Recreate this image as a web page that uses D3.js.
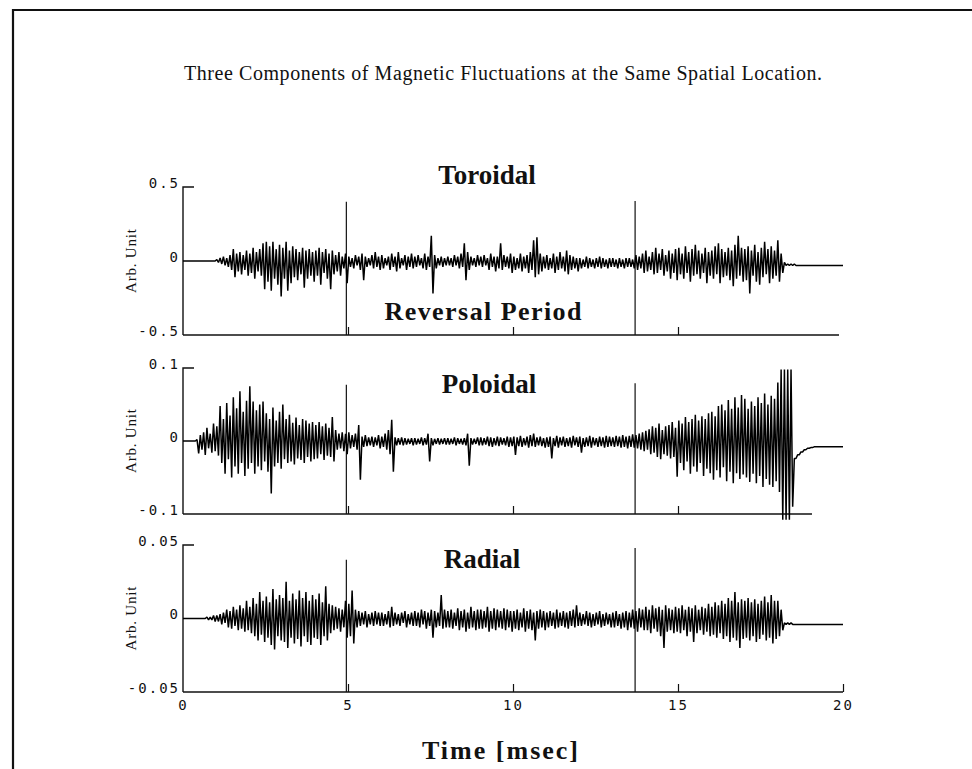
<!DOCTYPE html>
<html>
<head>
<meta charset="utf-8">
<script src="https://cdn.jsdelivr.net/npm/d3@7/dist/d3.min.js"></script>
<style>
  body { margin: 0; background: #fff; }
  svg { display: block; }
  .serif { font-family: "Liberation Serif", "Times New Roman", serif; fill: #111; }
  .tick-label { font-family: "DejaVu Sans Mono", monospace; font-size: 14px; letter-spacing: 2px; fill: #111; }
</style>
</head>
<body>
<svg id="chart"></svg>
<script>
// envelope samples: one max (hi) and one min (lo) per 0.1 msec bin, 0 .. 20 msec
const binWidth = 0.1;
const reversalTimes = [4.95, 13.7];
const timeTicks = [0, 5, 10, 15, 20];

const toroidalTicks = [-0.5, 0, 0.5];
const poloidalTicks = [-0.1, 0, 0.1];
const radialTicks = [-0.05, 0, 0.05];

// top of the reversal marker lines in each panel
const toroidalMarkerTops = [0.40, 0.405];
const poloidalMarkerTops = [0.077, 0.079];
const radialMarkerTops = [0.040, 0.048];

const toroidalHi = [
  0,0,0,0,0,0,0,0,0,0,
  .01,.02,.03,.02,.04,.08,.05,.06,.04,.07,
  .05,.09,.06,.08,.12,.13,.10,.13,.08,.11,
  .09,.13,.07,.10,.08,.06,.09,.07,.08,.06,
  .07,.09,.06,.08,.05,.07,.04,.06,.03,.05,
  .03,.02,.04,.03,.05,.03,.02,.04,.06,.03,
  .04,.02,.03,.05,.03,.06,.02,.04,.03,.05,
  .03,.04,.02,.05,.03,.17,.04,.02,.03,.02,
  .03,.02,.04,.03,.05,.12,.06,.03,.02,.04,
  .03,.04,.02,.05,.03,.03,.12,.04,.03,.05,
  .03,.02,.05,.03,.04,.06,.14,.16,.05,.03,
  .04,.02,.05,.03,.06,.03,.07,.04,.03,.02,
  .02,.01,.03,.02,.01,.02,.03,.02,.01,.02,
  .02,.01,.02,.01,.02,.02,.01,.04,.03,.05,
  .07,.03,.06,.09,.05,.08,.04,.07,.05,.08,
  .09,.05,.10,.06,.08,.11,.07,.05,.09,.06,
  .07,.10,.12,.08,.06,.09,.07,.11,.17,.09,
  .08,.10,.07,.11,.06,.09,.13,.08,.10,.07,
  .14,.05,-.01,-.02,-.02,-.02,-.03,-.03,-.03,-.03,
  -.03,-.03,-.03,-.03,-.03,-.03,-.03,-.03,-.03,-.03
];
const toroidalLo = [
  0,0,0,0,0,0,0,0,0,0,
  -.01,-.02,-.03,-.04,-.06,-.11,-.07,-.09,-.06,-.10,
  -.08,-.12,-.07,-.10,-.19,-.14,-.20,-.12,-.16,-.24,
  -.12,-.20,-.15,-.11,-.13,-.09,-.18,-.12,-.10,-.14,
  -.10,-.16,-.08,-.12,-.19,-.09,-.07,-.10,-.05,-.15,
  -.04,-.05,-.03,-.06,-.13,-.04,-.03,-.05,-.04,-.06,
  -.05,-.03,-.06,-.04,-.07,-.05,-.03,-.06,-.04,-.05,
  -.04,-.03,-.05,-.06,-.04,-.22,-.05,-.03,-.04,-.03,
  -.03,-.04,-.03,-.05,-.04,-.13,-.06,-.03,-.04,-.03,
  -.04,-.03,-.06,-.04,-.07,-.05,-.06,-.04,-.05,-.08,
  -.06,-.05,-.07,-.05,-.08,-.06,-.11,-.09,-.07,-.05,
  -.06,-.05,-.08,-.06,-.05,-.07,-.09,-.06,-.05,-.07,
  -.05,-.04,-.05,-.04,-.05,-.04,-.05,-.04,-.05,-.04,
  -.04,-.05,-.04,-.05,-.04,-.04,-.05,-.06,-.05,-.08,
  -.07,-.06,-.09,-.08,-.06,-.10,-.07,-.12,-.08,-.13,
  -.09,-.12,-.08,-.14,-.10,-.09,-.12,-.08,-.15,-.10,
  -.12,-.09,-.15,-.11,-.10,-.13,-.17,-.12,-.10,-.14,
  -.13,-.22,-.10,-.14,-.16,-.11,-.09,-.15,-.12,-.10,
  -.14,-.08,-.03,-.03,-.03,-.03,-.03,-.03,-.03,-.03,
  -.03,-.03,-.03,-.03,-.03,-.03,-.03,-.03,-.03,-.03
];

const poloidalHi = [
  0,0,0,0,.002,.008,.012,.018,.010,.024,
  .020,.048,.030,.052,.035,.060,.045,.068,.040,.055,
  .075,.054,.042,.050,.054,.038,.030,.046,.028,.040,
  .050,.030,.036,.025,.032,.022,.030,.028,.024,.026,
  .022,.026,.020,.024,.018,.033,.015,.010,.012,.010,
  .012,.008,.010,.022,.006,.008,.005,.006,.005,.008,
  .006,.010,.015,.029,.005,.004,.005,.004,.003,.004,
  .004,.003,.005,.004,.010,.004,.003,.004,.003,.004,
  .004,.003,.005,.004,.003,.004,.010,.004,.003,.005,
  .005,.004,.006,.005,.004,.006,.005,.004,.006,.005,
  .006,.005,.007,.004,.006,.008,.010,.005,.006,.004,
  .005,.006,.004,.007,.005,.006,.004,.005,.007,.005,
  .006,.004,.005,.007,.005,.004,.006,.005,.007,.006,
  .005,.007,.006,.008,.006,.007,.009,.008,.010,.012,
  .014,.016,.020,.018,.024,.015,.020,.022,.026,.018,
  .028,.024,.033,.026,.030,.036,.028,.034,.030,.038,
  .040,.034,.048,.050,.042,.056,.044,.060,.046,.063,
  .058,.044,.054,.048,.060,.052,.065,.050,.062,.058,
  .080,.098,.098,.098,.098,-.024,-.019,-.015,-.012,-.010,
  -.009,-.008,-.008,-.008,-.008,-.008,-.008,-.008,-.008,-.008
];
const poloidalLo = [
  0,0,0,0,-.017,-.012,-.019,-.010,-.016,-.014,
  -.020,-.030,-.045,-.025,-.050,-.035,-.045,-.030,-.048,-.038,
  -.030,-.045,-.035,-.040,-.028,-.042,-.072,-.035,-.030,-.038,
  -.025,-.030,-.028,-.032,-.024,-.026,-.030,-.022,-.028,-.025,
  -.024,-.018,-.026,-.020,-.022,-.028,-.012,-.010,-.014,-.018,
  -.010,-.008,-.012,-.053,-.008,-.007,-.006,-.008,-.006,-.010,
  -.008,-.012,-.018,-.042,-.006,-.005,-.006,-.005,-.004,-.006,
  -.005,-.004,-.006,-.005,-.028,-.006,-.004,-.005,-.004,-.005,
  -.005,-.004,-.006,-.004,-.005,-.006,-.034,-.005,-.004,-.006,
  -.006,-.005,-.007,-.008,-.006,-.007,-.005,-.006,-.008,-.007,
  -.019,-.007,-.008,-.006,-.009,-.007,-.008,-.006,-.007,-.009,
  -.008,-.024,-.007,-.009,-.006,-.008,-.007,-.009,-.006,-.008,
  -.016,-.008,-.007,-.009,-.006,-.008,-.007,-.009,-.008,-.007,
  -.008,-.007,-.009,-.008,-.010,-.008,-.009,-.010,-.012,-.014,
  -.012,-.018,-.016,-.022,-.025,-.018,-.020,-.024,-.022,-.049,
  -.030,-.040,-.028,-.045,-.035,-.042,-.030,-.048,-.038,-.044,
  -.053,-.040,-.050,-.036,-.055,-.042,-.058,-.044,-.052,-.046,
  -.050,-.056,-.045,-.058,-.048,-.063,-.052,-.060,-.063,-.055,
  -.070,-.108,-.108,-.108,-.090,-.024,-.019,-.015,-.012,-.010,
  -.009,-.008,-.008,-.008,-.008,-.008,-.008,-.008,-.008,-.008
];

const radialHi = [
  0,0,0,0,0,0,0,.001,.001,.002,
  .002,.003,.004,.006,.005,.008,.006,.009,.007,.012,
  .008,.014,.010,.018,.012,.015,.011,.020,.013,.016,
  .014,.025,.012,.017,.013,.019,.014,.018,.012,.016,
  .013,.017,.011,.022,.010,.009,.008,.007,.006,.012,
  .010,.019,.006,.005,.004,.005,.003,.004,.005,.004,
  .004,.003,.005,.008,.004,.003,.004,.005,.003,.004,
  .005,.004,.006,.005,.004,.006,.005,.004,.016,.006,
  .005,.006,.004,.007,.005,.006,.004,.008,.005,.006,
  .006,.005,.008,.005,.007,.006,.005,.007,.006,.005,
  .005,.006,.004,.007,.005,.006,.004,.005,.006,.005,
  .004,.005,.004,.006,.004,.005,.004,.005,.006,.009,
  .004,.003,.005,.004,.003,.004,.005,.003,.004,.003,
  .004,.005,.003,.004,.005,.004,.006,.005,.007,.006,
  .008,.006,.009,.007,.008,.006,.009,.007,.006,.008,
  .007,.009,.006,.008,.007,.009,.006,.008,.007,.010,
  .008,.011,.009,.012,.010,.014,.012,.018,.011,.013,
  .012,.014,.011,.013,.010,.012,.015,.011,.016,.012,
  .012,.006,-.003,-.003,-.003,-.004,-.004,-.004,-.004,-.004,
  -.004,-.004,-.004,-.004,-.004,-.004,-.004,-.004,-.004,-.004
];
const radialLo = [
  0,0,0,0,0,0,0,-.001,-.001,-.002,
  -.002,-.004,-.003,-.006,-.007,-.005,-.008,-.007,-.009,-.008,
  -.010,-.012,-.015,-.011,-.016,-.013,-.018,-.021,-.012,-.015,
  -.016,-.020,-.013,-.017,-.014,-.019,-.012,-.016,-.018,-.013,
  -.014,-.018,-.012,-.015,-.010,-.008,-.007,-.009,-.006,-.013,
  -.012,-.017,-.006,-.005,-.004,-.006,-.004,-.005,-.004,-.005,
  -.005,-.004,-.006,-.005,-.004,-.005,-.003,-.006,-.004,-.005,
  -.005,-.006,-.004,-.007,-.005,-.013,-.006,-.005,-.007,-.006,
  -.006,-.007,-.005,-.008,-.006,-.009,-.007,-.006,-.008,-.007,
  -.007,-.006,-.009,-.007,-.008,-.006,-.007,-.008,-.006,-.009,
  -.007,-.008,-.006,-.009,-.007,-.008,-.015,-.007,-.006,-.008,
  -.006,-.005,-.007,-.006,-.005,-.006,-.007,-.005,-.006,-.005,
  -.005,-.004,-.005,-.006,-.005,-.004,-.006,-.005,-.004,-.006,
  -.006,-.005,-.007,-.006,-.008,-.006,-.007,-.009,-.006,-.008,
  -.008,-.010,-.007,-.009,-.012,-.020,-.009,-.008,-.010,-.009,
  -.010,-.008,-.012,-.009,-.016,-.010,-.008,-.011,-.009,-.012,
  -.011,-.013,-.010,-.014,-.012,-.016,-.013,-.015,-.020,-.014,
  -.013,-.015,-.012,-.016,-.014,-.011,-.015,-.013,-.017,-.014,
  -.012,-.008,-.004,-.004,-.004,-.004,-.004,-.004,-.004,-.004,
  -.004,-.004,-.004,-.004,-.004,-.004,-.004,-.004,-.004,-.004
];

const width = 972, height = 769;

const svg = d3.select('#chart')
  .attr('width', width)
  .attr('height', height);

// scanned page frame (left and top edges only)
svg.append('path')
  .attr('d', `M13,${height} L13,10 L${width},10`)
  .attr('fill', 'none')
  .attr('stroke', '#111')
  .attr('stroke-width', 2.2);

svg.append('text')
  .attr('class', 'serif')
  .attr('x', 503)
  .attr('y', 80)
  .attr('text-anchor', 'middle')
  .attr('textLength', 638)
  .attr('lengthAdjust', 'spacing')
  .style('font-size', '20px')
  .text('Three Components of Magnetic Fluctuations at the Same Spatial Location.');

const xScale = d3.scaleLinear()
  .domain([0, 20])
  .range([183, 843]);

const panels = [
  { title: 'Toroidal', hi: toroidalHi, lo: toroidalLo, ticks: toroidalTicks,
    markerTops: toroidalMarkerTops, top: 187, bottom: 335, axisEnd: 19.88,
    bottomTicks: [5, 10, 15], titleX: 487, titleY: 184 },
  { title: 'Poloidal', hi: poloidalHi, lo: poloidalLo, ticks: poloidalTicks,
    markerTops: poloidalMarkerTops, top: 368, bottom: 514, axisEnd: 19.06,
    bottomTicks: [5, 10, 15], titleX: 489, titleY: 393 },
  { title: 'Radial', hi: radialHi, lo: radialLo, ticks: radialTicks,
    markerTops: radialMarkerTops, top: 545, bottom: 692, axisEnd: 20,
    bottomTicks: [5, 10, 15, 20], titleX: 482, titleY: 568 }
];

function envelopePoints(hi, lo) {
  const pts = [[0, 0]];
  hi.forEach((h, i) => {
    pts.push([i * binWidth + binWidth * 0.25, h]);
    pts.push([i * binWidth + binWidth * 0.75, lo[i]]);
  });
  pts.push([20, lo[lo.length - 1]]);
  return pts;
}

panels.forEach(p => {
  const yScale = d3.scaleLinear()
    .domain([p.ticks[0], p.ticks[2]])
    .range([p.bottom, p.top]);

  const g = svg.append('g');

  // left axis with the small corner tick at the top
  g.append('path')
    .attr('d', `M${xScale(0) + 11},${p.top} L${xScale(0)},${p.top} L${xScale(0)},${p.bottom}`)
    .attr('fill', 'none')
    .attr('stroke', '#111')
    .attr('stroke-width', 1.4);

  // bottom axis line
  g.append('line')
    .attr('x1', xScale(0)).attr('x2', xScale(p.axisEnd))
    .attr('y1', p.bottom).attr('y2', p.bottom)
    .attr('stroke', '#111')
    .attr('stroke-width', 1.4);

  const xAxisG = g.append('g')
    .attr('transform', `translate(0,${p.bottom})`)
    .call(d3.axisBottom(xScale)
      .tickValues(p.bottomTicks)
      .tickSizeInner(-8)
      .tickSizeOuter(0)
      .tickFormat(''));
  xAxisG.select('.domain').remove();
  xAxisG.selectAll('.tick line').attr('stroke', '#111').attr('stroke-width', 1.2);

  const yAxisG = g.append('g')
    .attr('transform', `translate(${xScale(0)},0)`)
    .call(d3.axisLeft(yScale)
      .tickValues(p.ticks)
      .tickSize(0)
      .tickFormat(d => d === 0 ? '0' : String(d)));
  yAxisG.select('.domain').remove();
  yAxisG.selectAll('text')
    .attr('class', 'tick-label')
    .attr('x', -3)
    .attr('dy', 0)
    .attr('font-family', null)
    .attr('font-size', null);

  // reversal period markers
  g.selectAll('.marker')
    .data(reversalTimes)
    .join('line')
    .attr('class', 'marker')
    .attr('x1', d => xScale(d)).attr('x2', d => xScale(d))
    .attr('y1', (d, i) => yScale(p.markerTops[i]))
    .attr('y2', p.bottom)
    .attr('stroke', '#111')
    .attr('stroke-width', 1.2);

  // signal trace
  const line = d3.line()
    .x(d => xScale(d[0]))
    .y(d => yScale(d[1]));

  g.append('path')
    .datum(envelopePoints(p.hi, p.lo))
    .attr('d', line)
    .attr('fill', 'none')
    .attr('stroke', '#000')
    .attr('stroke-width', 1.5)
    .attr('stroke-linejoin', 'bevel');

  g.append('text')
    .attr('class', 'serif')
    .attr('x', p.titleX)
    .attr('y', p.titleY)
    .attr('text-anchor', 'middle')
    .style('font-size', '27px')
    .style('font-weight', 'bold')
    .text(p.title);

  g.append('text')
    .attr('class', 'serif')
    .attr('transform', `translate(136,${(p.top + p.bottom) / 2}) rotate(-90)`)
    .attr('text-anchor', 'middle')
    .attr('textLength', 64)
    .attr('lengthAdjust', 'spacing')
    .style('font-size', '15px')
    .text('Arb. Unit');
});

svg.append('text')
  .attr('class', 'serif')
  .attr('x', 483)
  .attr('y', 320)
  .attr('text-anchor', 'middle')
  .attr('textLength', 197)
  .attr('lengthAdjust', 'spacing')
  .style('font-size', '26px')
  .style('font-weight', 'bold')
  .text('Reversal Period');

// time labels under the bottom panel
const timeAxisG = svg.append('g')
  .attr('transform', `translate(0,${panels[2].bottom})`)
  .call(d3.axisBottom(xScale)
    .tickValues(timeTicks)
    .tickSize(0)
    .tickFormat(d3.format('d')));
timeAxisG.select('.domain').remove();
timeAxisG.selectAll('text')
  .attr('class', 'tick-label')
  .attr('y', 18)
  .attr('dy', 0)
  .attr('font-family', null)
  .attr('font-size', null);

svg.append('text')
  .attr('class', 'serif')
  .attr('x', 500)
  .attr('y', 759)
  .attr('text-anchor', 'middle')
  .attr('textLength', 156)
  .attr('lengthAdjust', 'spacing')
  .style('font-size', '26px')
  .style('font-weight', 'bold')
  .text('Time  [msec]');
</script>
</body>
</html>
